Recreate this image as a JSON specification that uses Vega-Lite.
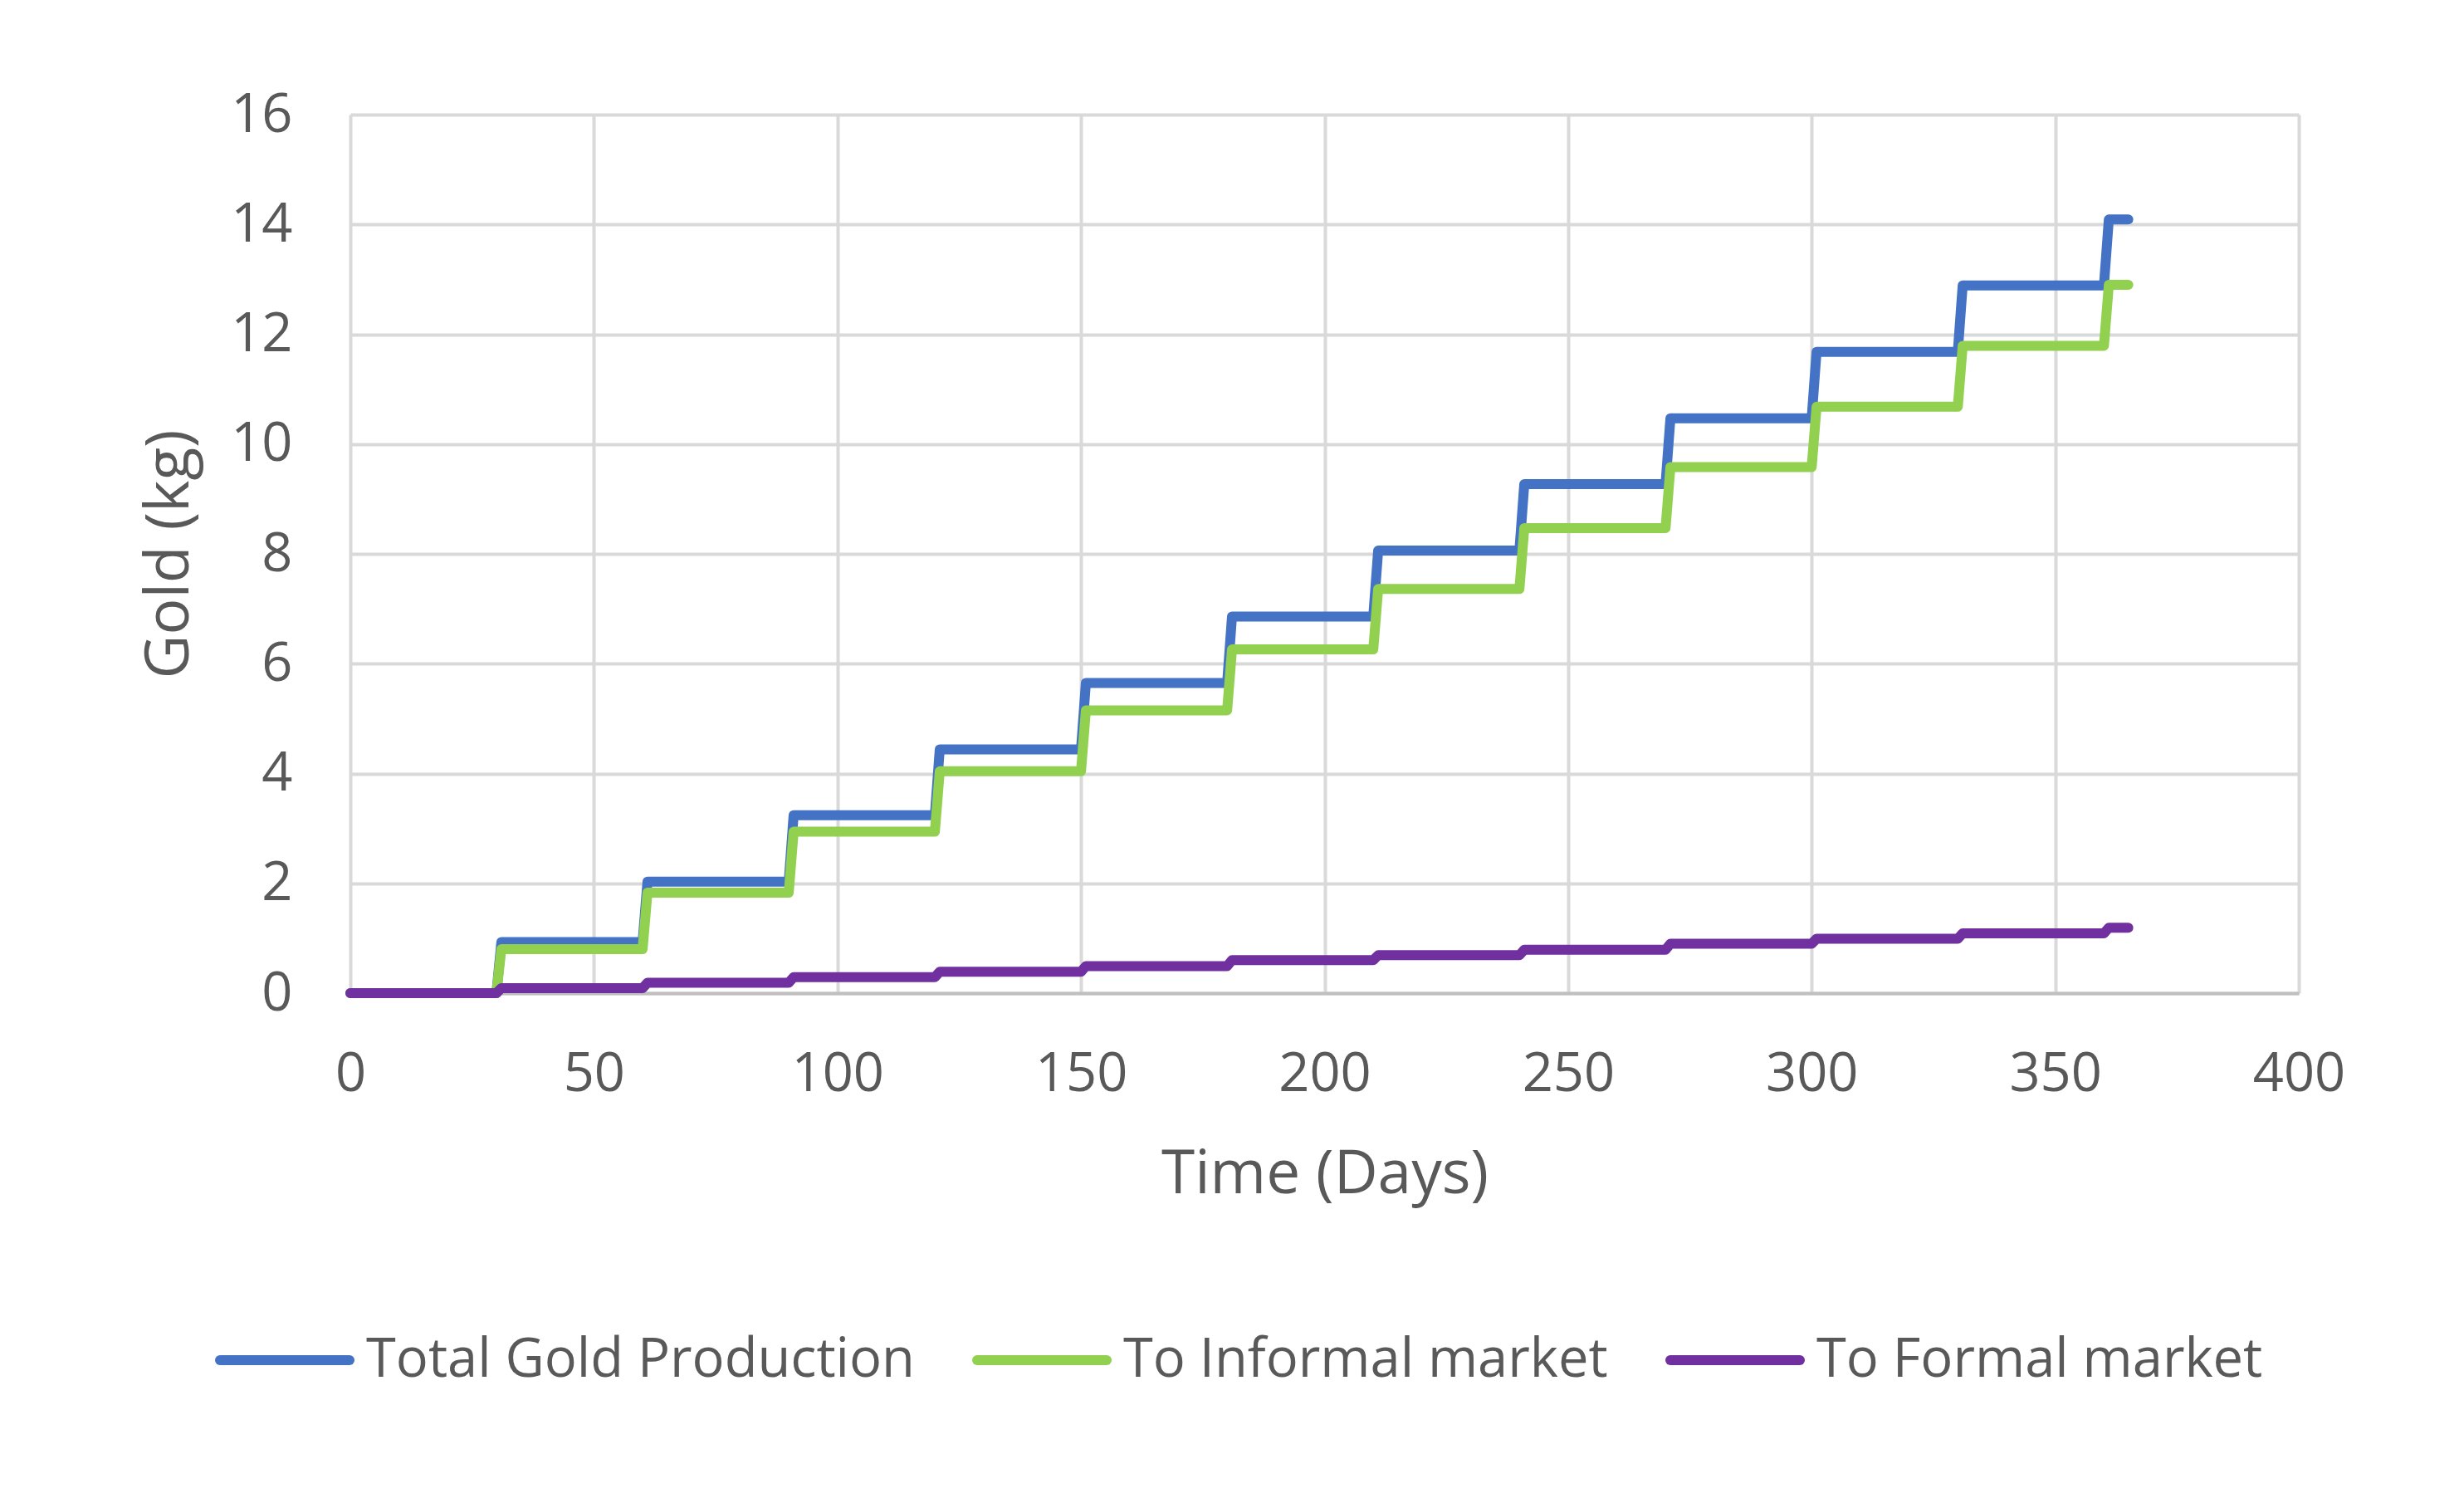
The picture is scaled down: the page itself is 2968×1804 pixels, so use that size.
{
  "$schema": "https://vega.github.io/schema/vega-lite/v6.json",
  "autosize": {"type": "none"},
  "padding": {"left": 422, "top": 138, "right": 199, "bottom": 608},
  "width": 2347,
  "height": 1058,
  "background": "white",
  "config": {
    "view": {"stroke": null},
    "font": "Open Sans"
  },
  "data": {
    "values": [
      {"day": 0, "Total Gold Production": 0, "To Informal market": 0, "To Formal market": 0},
      {"day": 30, "Total Gold Production": 0, "To Informal market": 0, "To Formal market": 0},
      {"day": 31, "Total Gold Production": 0.93, "To Informal market": 0.80, "To Formal market": 0.09},
      {"day": 60, "Total Gold Production": 0.93, "To Informal market": 0.80, "To Formal market": 0.09},
      {"day": 61, "Total Gold Production": 2.03, "To Informal market": 1.83, "To Formal market": 0.19},
      {"day": 90, "Total Gold Production": 2.03, "To Informal market": 1.83, "To Formal market": 0.19},
      {"day": 91, "Total Gold Production": 3.24, "To Informal market": 2.94, "To Formal market": 0.29},
      {"day": 120, "Total Gold Production": 3.24, "To Informal market": 2.94, "To Formal market": 0.29},
      {"day": 121, "Total Gold Production": 4.44, "To Informal market": 4.04, "To Formal market": 0.39},
      {"day": 150, "Total Gold Production": 4.44, "To Informal market": 4.04, "To Formal market": 0.39},
      {"day": 151, "Total Gold Production": 5.65, "To Informal market": 5.15, "To Formal market": 0.49},
      {"day": 180, "Total Gold Production": 5.65, "To Informal market": 5.15, "To Formal market": 0.49},
      {"day": 181, "Total Gold Production": 6.86, "To Informal market": 6.26, "To Formal market": 0.60},
      {"day": 210, "Total Gold Production": 6.86, "To Informal market": 6.26, "To Formal market": 0.60},
      {"day": 211, "Total Gold Production": 8.06, "To Informal market": 7.36, "To Formal market": 0.69},
      {"day": 240, "Total Gold Production": 8.06, "To Informal market": 7.36, "To Formal market": 0.69},
      {"day": 241, "Total Gold Production": 9.27, "To Informal market": 8.47, "To Formal market": 0.79},
      {"day": 270, "Total Gold Production": 9.27, "To Informal market": 8.47, "To Formal market": 0.79},
      {"day": 271, "Total Gold Production": 10.47, "To Informal market": 9.58, "To Formal market": 0.90},
      {"day": 300, "Total Gold Production": 10.47, "To Informal market": 9.58, "To Formal market": 0.90},
      {"day": 301, "Total Gold Production": 11.68, "To Informal market": 10.68, "To Formal market": 0.99},
      {"day": 330, "Total Gold Production": 11.68, "To Informal market": 10.68, "To Formal market": 0.99},
      {"day": 331, "Total Gold Production": 12.89, "To Informal market": 11.79, "To Formal market": 1.09},
      {"day": 360, "Total Gold Production": 12.89, "To Informal market": 11.79, "To Formal market": 1.09},
      {"day": 361, "Total Gold Production": 14.09, "To Informal market": 12.90, "To Formal market": 1.19},
      {"day": 365, "Total Gold Production": 14.09, "To Informal market": 12.90, "To Formal market": 1.19}
    ]
  },
  "transform": [
    {"fold": ["Total Gold Production", "To Informal market", "To Formal market"], "as": ["series", "gold"]}
  ],
  "mark": {"type": "line", "strokeWidth": 12, "strokeCap": "round", "strokeJoin": "round"},
  "encoding": {
    "x": {
      "field": "day",
      "type": "quantitative",
      "scale": {"domain": [0, 400], "nice": false, "zero": true},
      "axis": {
        "title": "Time (Days)",
        "values": [0, 50, 100, 150, 200, 250, 300, 350, 400],
        "grid": true,
        "gridColor": "#d9d9d9",
        "gridWidth": 4,
        "domain": true,
        "domainColor": "#bfbfbf",
        "domainWidth": 4,
        "ticks": false,
        "labelPadding": 66,
        "labelFont": "Open Sans",
        "labelFontSize": 65,
        "labelColor": "#595959",
        "labelFlush": false,
        "titleFont": "Open Sans",
        "titleFontSize": 73,
        "titleFontWeight": "normal",
        "titleColor": "#595959",
        "titleX": 1173.5,
        "titleY": 218,
        "titleBaseline": "middle",
        "titleAlign": "center"
      }
    },
    "y": {
      "field": "gold",
      "type": "quantitative",
      "scale": {"domain": [0, 16], "nice": false},
      "axis": {
        "title": "Gold (kg)",
        "values": [0, 2, 4, 6, 8, 10, 12, 14, 16],
        "grid": true,
        "gridColor": "#d9d9d9",
        "gridWidth": 4,
        "domain": false,
        "ticks": false,
        "labelPadding": 70,
        "labelFont": "Open Sans",
        "labelFontSize": 65,
        "labelColor": "#595959",
        "labelFlush": false,
        "titleFont": "Open Sans",
        "titleFontSize": 73,
        "titleFontWeight": "normal",
        "titleColor": "#595959",
        "titleAngle": 270,
        "titleX": -218,
        "titleY": 529,
        "titleBaseline": "middle",
        "titleAlign": "center"
      }
    },
    "color": {
      "field": "series",
      "type": "nominal",
      "scale": {
        "domain": ["Total Gold Production", "To Informal market", "To Formal market"],
        "range": ["#4472C4", "#92D050", "#7030A0"]
      },
      "legend": {
        "title": null,
        "orient": "none",
        "direction": "horizontal",
        "legendX": -163,
        "legendY": 1416,
        "symbolType": "stroke",
        "symbolSize": 24336,
        "symbolStrokeWidth": 12,
        "labelFont": "Open Sans",
        "labelFontSize": 65,
        "labelColor": "#595959",
        "labelOffset": 14,
        "labelLimit": 2000,
        "columnPadding": 51,
        "padding": 0,
        "encode": {"symbols": {"update": {"strokeCap": {"value": "round"}}}}
      }
    }
  }
}
